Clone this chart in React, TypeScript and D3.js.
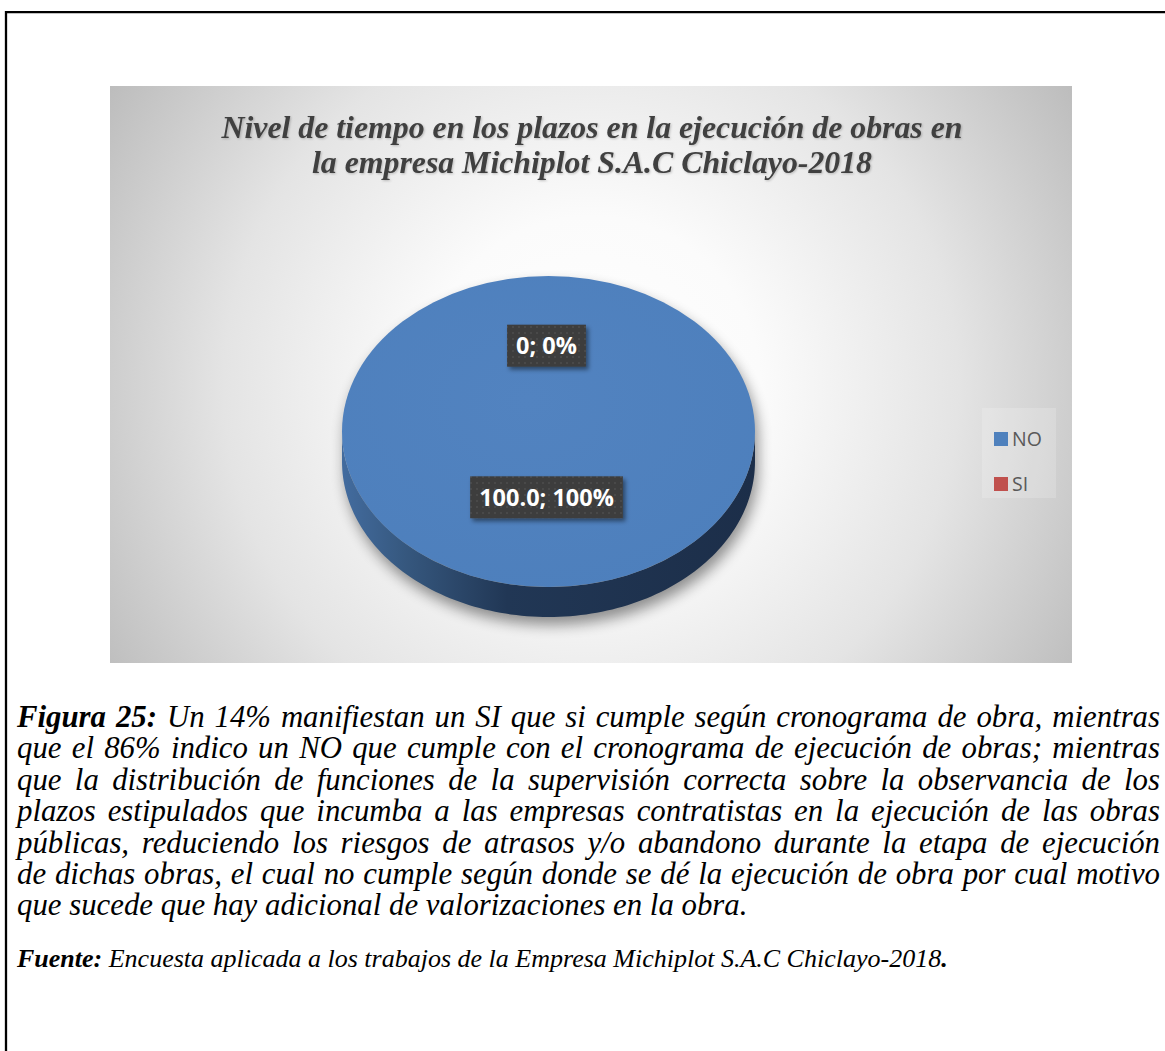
import React, { useEffect, useRef } from "react";
import * as d3 from "d3";

// ---- data ----
const categories = ["NO", "SI"];
const values = [100.0, 0];
const valueLabels = ["100.0", "0"];
const seriesColors = ["#4f81bd", "#c0504d"];
const titleLines = [
  "Nivel de tiempo en los plazos en la ejecución de obras en",
  "la empresa Michiplot S.A.C Chiclayo-2018",
];
const captionLead = "Figura 25:";
const captionLines = [
  " Un 14% manifiestan un SI que si cumple según cronograma de obra, mientras",
  "que el 86% indico un NO que cumple con el cronograma de ejecución de obras; mientras",
  "que la distribución de funciones de la supervisión correcta sobre la observancia de los",
  "plazos estipulados que incumba a las empresas contratistas en la ejecución de las obras",
  "públicas, reduciendo los riesgos de atrasos y/o abandono durante la etapa de ejecución",
  "de dichas obras, el cual no cumple según donde se dé la ejecución de obra por cual motivo",
  "que sucede que hay adicional de valorizaciones en la obra.",
];
const sourceLead = "Fuente:";
const sourceText = " Encuesta aplicada a los trabajos de la Empresa Michiplot S.A.C Chiclayo-2018";
const sourceEnd = ".";

const W = 1165;
const H = 1051;

export default function App() {
  const ref = useRef<SVGSVGElement>(null);

  useEffect(() => {
    const svg = d3.select(ref.current);
    svg.selectAll("*").remove();
    const defs = svg.append("defs");

    // frame
    svg.append("path").attr("d", `M6,${H} V12.2 H${W}`).attr("fill", "none").attr("stroke", "#000").attr("stroke-width", 2.3);

    // chart area
    const area = { x: 110, y: 86, w: 962, h: 577 };
    const bg = defs.append("radialGradient").attr("id", "bgGrad").attr("gradientUnits", "userSpaceOnUse")
      .attr("cx", area.x + area.w / 2).attr("cy", area.y + area.h * 0.52).attr("r", 565);
    bg.append("stop").attr("offset", 0).attr("stop-color", "#ffffff");
    bg.append("stop").attr("offset", 0.3).attr("stop-color", "#fbfbfb");
    bg.append("stop").attr("offset", 0.65).attr("stop-color", "#e4e4e4");
    bg.append("stop").attr("offset", 1).attr("stop-color", "#bdbdbd");
    svg.append("rect").attr("x", area.x).attr("y", area.y).attr("width", area.w).attr("height", area.h).attr("fill", "url(#bgGrad)");

    // title
    const tsh = defs.append("filter").attr("id", "tshadow").attr("x", "-5%").attr("y", "-20%").attr("width", "110%").attr("height", "140%");
    tsh.append("feDropShadow").attr("dx", 1).attr("dy", 1).attr("stdDeviation", 1).attr("flood-color", "#000").attr("flood-opacity", 0.22);
    const title = svg.append("g").attr("filter", "url(#tshadow)");
    titleLines.forEach((t, i) => {
      title.append("text").attr("x", area.x + area.w / 2 + 1).attr("y", 138 + i * 34.5)
        .attr("text-anchor", "middle").attr("font-family", "'Liberation Serif', 'Times New Roman', serif")
        .attr("font-style", "italic").attr("font-weight", "bold").attr("font-size", 31.8).attr("fill", "#404040").text(t);
    });

    // pie geometry
    const cx = 548.5, cy = 431.5, rx = 206.5, ry = 155.5, depth = 30;
    const pie = d3.pie<number>().sort(null).value((d) => d);
    const arcs = pie(values);
    const arc = d3.arc<d3.PieArcDatum<number>>().innerRadius(0).outerRadius(rx);

    // shadow
    const shf = defs.append("filter").attr("id", "pieShadow").attr("x", "-20%").attr("y", "-20%").attr("width", "140%").attr("height", "140%");
    shf.append("feGaussianBlur").attr("stdDeviation", 7);
    const sg = svg.append("g").attr("filter", "url(#pieShadow)").attr("opacity", 0.42).attr("transform", "translate(3,8)");
    sg.append("ellipse").attr("cx", cx).attr("cy", cy).attr("rx", rx).attr("ry", ry).attr("fill", "#000");
    sg.append("ellipse").attr("cx", cx).attr("cy", cy + depth).attr("rx", rx).attr("ry", ry).attr("fill", "#000");
    sg.append("rect").attr("x", cx - rx).attr("y", cy).attr("width", 2 * rx).attr("height", depth).attr("fill", "#000");

    // side gradient
    const sideGrad = defs.append("linearGradient").attr("id", "sideGrad").attr("gradientUnits", "userSpaceOnUse")
      .attr("x1", cx - rx).attr("x2", cx + rx).attr("y1", 0).attr("y2", 0);
    sideGrad.append("stop").attr("offset", 0).attr("stop-color", "#436c9f");
    sideGrad.append("stop").attr("offset", 0.15).attr("stop-color", "#36587f");
    sideGrad.append("stop").attr("offset", 0.4).attr("stop-color", "#213755");
    sideGrad.append("stop").attr("offset", 1).attr("stop-color", "#1c2e49");

    const pt = (th: number, dy: number): [number, number] => [cx + rx * Math.sin(th), cy - ry * Math.cos(th) + dy];
    const line = d3.line();
    arcs.forEach((a) => {
      const a0 = Math.max(a.startAngle, Math.PI / 2);
      const a1 = Math.min(a.endAngle, (3 * Math.PI) / 2);
      if (a1 <= a0) return;
      const steps = d3.range(0, 121).map((k) => a0 + ((a1 - a0) * k) / 120);
      const top = steps.map((th) => pt(th, 0));
      const bot = steps.slice().reverse().map((th) => pt(th, depth));
      svg.append("path").attr("d", line([...top, ...bot]) + "Z").attr("fill", "url(#sideGrad)");
    });

    // top face
    const topGrad = defs.append("radialGradient").attr("id", "topGrad").attr("cx", "45%").attr("cy", "40%").attr("r", "70%");
    topGrad.append("stop").attr("offset", 0).attr("stop-color", "#5283c0");
    topGrad.append("stop").attr("offset", 1).attr("stop-color", "#4d7fbc");
    const topG = svg.append("g").attr("transform", `translate(${cx},${cy}) scale(1,${ry / rx})`);
    arcs.forEach((a, i) => {
      if (a.endAngle - a.startAngle <= 0) return;
      topG.append("path").attr("d", arc(a) as string).attr("fill", i === 0 ? "url(#topGrad)" : seriesColors[i]);
    });

    // data labels
    const pat = defs.append("pattern").attr("id", "dots").attr("patternUnits", "userSpaceOnUse").attr("width", 6).attr("height", 6);
    pat.append("rect").attr("width", 6).attr("height", 6).attr("fill", "#3d3d3d");
    pat.append("circle").attr("cx", 3).attr("cy", 3).attr("r", 0.8).attr("fill", "#5b5b5b");
    const lsh = defs.append("filter").attr("id", "lshadow").attr("x", "-20%").attr("y", "-30%").attr("width", "140%").attr("height", "170%");
    lsh.append("feDropShadow").attr("dx", 2.5).attr("dy", 3).attr("stdDeviation", 2).attr("flood-color", "#000").attr("flood-opacity", 0.45);
    const total = d3.sum(values);
    const pct = d3.format(".0%");
    const labelRadius = [0.42, 0.555];
    arcs.forEach((a, i) => {
      const mid = (a.startAngle + a.endAngle) / 2;
      const lx = cx - 2 + rx * labelRadius[i] * Math.sin(mid);
      const ly = cy + 0.5 - ry * labelRadius[i] * Math.cos(mid);
      const g = svg.append("g");
      const rect = g.append("rect").attr("fill", "url(#dots)").attr("filter", "url(#lshadow)");
      const txt = g.append("text").attr("x", lx).attr("y", ly + 8.5).attr("text-anchor", "middle")
        .attr("font-family", "'Open Sans', sans-serif").attr("font-weight", "bold").attr("font-size", 23.5)
        .attr("fill", "#ffffff").text(`${valueLabels[i]}; ${pct(values[i] / total)}`);
      const tw = (txt.node() as SVGTextElement).getComputedTextLength();
      const bw = tw + 18, bh = 42;
      rect.attr("x", lx - bw / 2).attr("y", ly - bh / 2).attr("width", bw).attr("height", bh);
    });

    // legend
    svg.append("rect").attr("x", 982).attr("y", 408).attr("width", 74).attr("height", 90).attr("fill", "#ffffff").attr("opacity", 0.18);
    categories.forEach((c, i) => {
      const y = 432 + i * 45;
      svg.append("rect").attr("x", 994).attr("y", y).attr("width", 14).attr("height", 14).attr("fill", seriesColors[i]);
      svg.append("text").attr("x", 1012).attr("y", y + 14).attr("font-family", "'Open Sans', sans-serif")
        .attr("font-size", 19.5).attr("fill", "#595959").text(c);
    });

    // caption
    const serif = "'Liberation Serif', 'Times New Roman', serif";
    const left = 17, right = 1160;
    captionLines.forEach((t, i) => {
      const y = 727 + i * 31.4;
      const text = svg.append("text").attr("x", left).attr("y", y).attr("font-family", serif)
        .attr("font-style", "italic").attr("font-size", 30.8).attr("fill", "#000").attr("xml:space", "preserve");
      if (i === 0) text.append("tspan").attr("font-weight", "bold").text(captionLead);
      text.append("tspan").text(t);
      if (i < captionLines.length - 1) {
        const full = (i === 0 ? captionLead : "") + t;
        const spaces = (full.match(/ /g) || []).length;
        const nat = (text.node() as SVGTextElement).getComputedTextLength();
        const extra = (right - left - nat) / spaces;
        text.attr("word-spacing", extra);
      }
    });
    const src = svg.append("text").attr("x", left).attr("y", 967).attr("font-family", serif)
      .attr("font-style", "italic").attr("font-size", 26).attr("fill", "#000").attr("xml:space", "preserve");
    src.append("tspan").attr("font-weight", "bold").text(sourceLead);
    src.append("tspan").text(sourceText);
    src.append("tspan").attr("font-weight", "bold").text(sourceEnd);
  }, []);

  return (
    <svg ref={ref} width={W} height={H} style={{ position: "absolute", left: 0, top: 0, background: "#ffffff", display: "block" }} />
  );
}
